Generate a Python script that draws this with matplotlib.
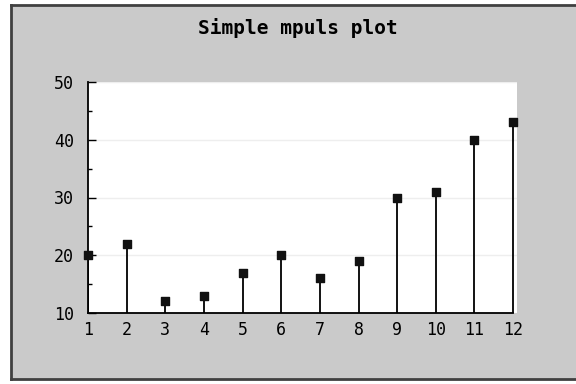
import matplotlib.pyplot as plt
from matplotlib.patches import Rectangle
from matplotlib.lines import Line2D

x = [1, 2, 3, 4, 5, 6, 7, 8, 9, 10, 11, 12]
y = [20, 22, 12, 13, 17, 20, 16, 19, 30, 31, 40, 43]
yticks = [10, 20, 30, 40, 50]
title = "Simple mpuls plot"

plt.rcParams['font.family'] = 'DejaVu Sans Mono'

fig = plt.figure(figsize=(5.76, 3.84), dpi=100)
fig.patch.set_facecolor('white')

# grey frame, dark edge on left, top and bottom only
W, H = 576, 384
x0, y0, y1 = 11 / W, 1 - 379 / H, 1 - 5 / H
fig.patches.append(Rectangle((x0, y0), 1 - x0, y1 - y0, transform=fig.transFigure,
                             facecolor='#cacaca', edgecolor='none', zorder=-10))
for xs, ys in [([x0, x0], [y0, y1]), ([x0, 1], [y1, y1]), ([x0, 1], [y0, y0])]:
    fig.lines.append(Line2D(xs, ys, transform=fig.transFigure, color='#404040',
                            linewidth=2, zorder=-9))

ax = fig.add_axes([88 / W, 1 - 313 / H, (517 - 88) / W, (313 - 82) / H])
ax.set_facecolor('white')

ax.vlines(x, 10, y, color='black', linewidth=1.3, zorder=3)
ax.scatter(x, y, marker='s', s=30, color='#111111', zorder=4, clip_on=False)

ax.set_xlim(1, 12.1)
ax.set_ylim(10, 50)
ax.set_xticks(x)
ax.set_yticks(yticks)
ax.set_yticks([15, 25, 35, 45], minor=True)
ax.grid(axis='y', color='#eeeeee', linewidth=1)
ax.set_axisbelow(True)

for s in ['top', 'right']:
    ax.spines[s].set_visible(False)
ax.spines['left'].set_linewidth(1.3)
ax.spines['bottom'].set_linewidth(1.3)
ax.spines['bottom'].set_bounds(1, 12)
ax.tick_params(axis='y', direction='in', length=6, width=1, labelsize=12, pad=10)
ax.tick_params(axis='y', which='minor', direction='in', length=3, width=1)
ax.tick_params(axis='x', length=0, labelsize=12, pad=6)

fig.text(298 / W, 1 - 28 / H, title, ha='center', va='center', fontsize=14, fontweight='bold')

fig.savefig('out.png', dpi=100)
